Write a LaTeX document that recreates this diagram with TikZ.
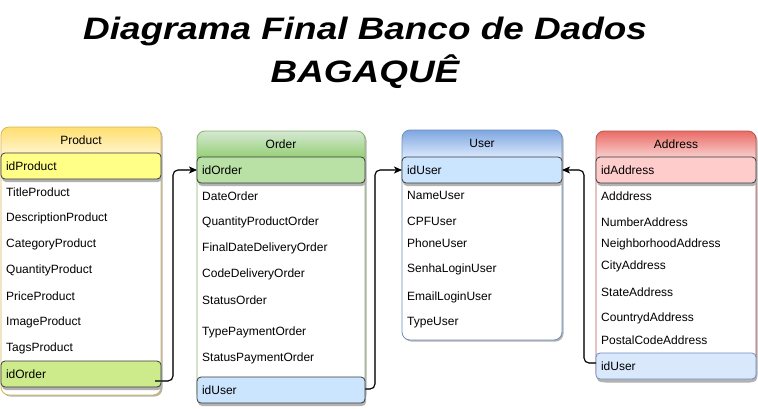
\documentclass[tikz,border=0pt]{standalone}
\usepackage{fontspec}
\setmainfont{Liberation Sans}
\usetikzlibrary{shadows,arrows.meta}
\definecolor{keyline}{HTML}{36393D}
\definecolor{prodline}{HTML}{D6B656}
\definecolor{prodtop}{HTML}{FFDF6E}
\definecolor{prodbot}{HTML}{FFF4CC}
\definecolor{prodkey}{HTML}{FFFF88}
\definecolor{greenkey}{HTML}{CDEB8B}
\definecolor{ordline}{HTML}{82B366}
\definecolor{ordtop}{HTML}{D5E8D4}
\definecolor{ordbot}{HTML}{97D077}
\definecolor{ordkey}{HTML}{B9E0A5}
\definecolor{bluekey}{HTML}{CCE5FF}
\definecolor{userline}{HTML}{6C8EBF}
\definecolor{usertop}{HTML}{7EA6E0}
\definecolor{userbot}{HTML}{DAE8FC}
\definecolor{addrline}{HTML}{B85450}
\definecolor{addrtop}{HTML}{EA6B66}
\definecolor{addrbot}{HTML}{F8CECC}
\definecolor{addrkey}{HTML}{FFCCCC}
\definecolor{addruser}{HTML}{DAE8FC}
\newcommand{\rowfont}{\fontsize{12}{14}\selectfont}
\newcommand{\ttlfont}{\fontsize{31}{36}\selectfont\bfseries\itshape}
\begin{document}
\begin{tikzpicture}[x=1pt,y=-1pt,
  tbl/.style={rectangle, rounded corners=8pt, fill=white, draw=none, inner sep=0pt, outer sep=0pt, anchor=north west,
    drop shadow={shadow xshift=1.5pt, shadow yshift=-1.5pt, fill=black!30, opacity=1}},
  tblborder/.style={line width=0.8pt, rounded corners=8pt},
  keyrow/.style={rectangle, rounded corners=4pt, draw=keyline, line width=0.8pt, inner xsep=5pt, inner ysep=0pt,
    outer sep=0pt, anchor=north west, minimum height=26pt, align=left, font=\rowfont,
    drop shadow={shadow xshift=1pt, shadow yshift=-3pt, fill=black!30, opacity=1}},
  field/.style={anchor=west, inner sep=0pt, font=\rowfont},
  hdrtxt/.style={inner sep=0pt, font=\rowfont},
  link/.style={draw=black, line width=1.1pt, rounded corners=5pt, -{Stealth[length=8pt,width=7pt,inset=2pt]}},
  linkshadow/.style={draw=black!22, line width=1.1pt, rounded corners=5pt, xshift=2pt, yshift=-2pt},
  ttl/.style={anchor=base, inner sep=0pt, font=\ttlfont, xscale=1.19}
]
\useasboundingbox (0,0) rectangle (758,408);

% ---------- title ----------
\node[ttl] (t1) at (365,39) {Diagrama Final Banco de Dados};
\node[ttl] (t2) at (365,82) {BAGAQUÊ};

% ---------- Product ----------
\node[tbl, minimum width=160pt, minimum height=268pt] (product) at (1,127) {};
\begin{scope}
  \clip[rounded corners=8pt] (product.north west) rectangle (product.south east);
  \shade[top color=prodtop, bottom color=prodbot] (product.north west) rectangle ([yshift=-26pt]product.north east);
\end{scope}
\draw[tblborder, draw=prodline] (product.north west) rectangle (product.south east);
\node[hdrtxt] (ptitle) at (81,140) {Product};
\node[keyrow, fill=prodkey, text width=150pt] (pIdProduct) at (1,153) {idProduct};
\node[field] (p1) at (6,192) {TitleProduct};
\node[field] (p2) at (6,218) {DescriptionProduct};
\node[field] (p3) at (6,244) {CategoryProduct};
\node[field] (p4) at (6,270) {QuantityProduct};
\node[field] (p5) at (6,296) {PriceProduct};
\node[field] (p6) at (6,322) {ImageProduct};
\node[field] (p7) at (6,348) {TagsProduct};
\node[keyrow, fill=greenkey, text width=150pt] (pIdOrder) at (1,361) {idOrder};

% ---------- Order ----------
\node[tbl, minimum width=168pt, minimum height=270pt] (order) at (197,131) {};
\begin{scope}
  \clip[rounded corners=8pt] (order.north west) rectangle (order.south east);
  \shade[top color=ordtop, bottom color=ordbot] (order.north west) rectangle ([yshift=-26pt]order.north east);
\end{scope}
\draw[tblborder, draw=ordline] (order.north west) rectangle (order.south east);
\node[hdrtxt] (otitle) at (281,144) {Order};
\node[keyrow, fill=ordkey, text width=158pt] (oIdOrder) at (197,157) {idOrder};
\node[field] (o1) at (202,196) {DateOrder};
\node[field] (o2) at (202,222) {QuantityProductOrder};
\node[field] (o3) at (202,248) {FinalDateDeliveryOrder};
\node[field] (o4) at (202,274) {CodeDeliveryOrder};
\node[field] (o5) at (202,300) {StatusOrder};
\node[field] (o6) at (202,332) {TypePaymentOrder};
\node[field] (o7) at (202,358) {StatusPaymentOrder};
\node[keyrow, fill=bluekey, text width=158pt] (oIdUser) at (197,377) {idUser};

% ---------- User ----------
\node[tbl, minimum width=160pt, minimum height=210pt] (user) at (402,130) {};
\begin{scope}
  \clip[rounded corners=8pt] (user.north west) rectangle (user.south east);
  \shade[top color=usertop, bottom color=userbot] (user.north west) rectangle ([yshift=-27pt]user.north east);
\end{scope}
\draw[tblborder, draw=userline] (user.north west) rectangle (user.south east);
\node[hdrtxt] (utitle) at (482,143) {User};
\node[keyrow, fill=bluekey, text width=150pt] (uIdUser) at (402,157) {idUser};
\node[field] (u1) at (407,195) {NameUser};
\node[field] (u2) at (407,221) {CPFUser};
\node[field] (u3) at (407,243) {PhoneUser};
\node[field] (u4) at (407,269) {SenhaLoginUser};
\node[field] (u5) at (407,297) {EmailLoginUser};
\node[field] (u6) at (407,323) {TypeUser};

% ---------- Address ----------
\node[tbl, minimum width=160pt, minimum height=250pt] (address) at (596,131) {};
\begin{scope}
  \clip[rounded corners=8pt] (address.north west) rectangle (address.south east);
  \shade[top color=addrtop, bottom color=addrbot] (address.north west) rectangle ([yshift=-26pt]address.north east);
\end{scope}
\draw[tblborder, draw=addrline] (address.north west) rectangle (address.south east);
\node[hdrtxt] (atitle) at (676,144) {Address};
\node[keyrow, fill=addrkey, text width=150pt] (aIdAddress) at (596,157) {idAddress};
\node[field] (a1) at (601,196) {Adddress};
\node[field] (a2) at (601,222) {NumberAddress};
\node[field] (a3) at (601,244) {NeighborhoodAddress};
\node[field] (a4) at (601,266) {CityAddress};
\node[field] (a5) at (601,292) {StateAddress};
\node[field] (a6) at (601,318) {CountrydAddress};
\node[field] (a7) at (601,340) {PostalCodeAddress};
\node[keyrow, fill=addruser, draw=userline, text width=150pt] (aIdUser) at (596,353) {idUser};

% ---------- connectors ----------
\draw[linkshadow] ([xshift=-6pt,yshift=-7pt]pIdOrder.east) -| ([xshift=-24pt]oIdOrder.west) -- ([xshift=-8pt]oIdOrder.west);
\draw[link] ([xshift=-6pt,yshift=-7pt]pIdOrder.east) -| ([xshift=-24pt]oIdOrder.west) -- (oIdOrder.west);

\draw[linkshadow] ([yshift=1pt]oIdUser.east) -| ([xshift=-27pt]uIdUser.west) -- ([xshift=-8pt]uIdUser.west);
\draw[link] ([yshift=1pt]oIdUser.east) -| ([xshift=-27pt]uIdUser.west) -- (uIdUser.west);

\draw[linkshadow] ([yshift=3pt]aIdUser.west) -| ([xshift=22pt]uIdUser.east) -- ([xshift=8pt]uIdUser.east);
\draw[link] ([yshift=3pt]aIdUser.west) -| ([xshift=22pt]uIdUser.east) -- (uIdUser.east);
\end{tikzpicture}
\end{document}
